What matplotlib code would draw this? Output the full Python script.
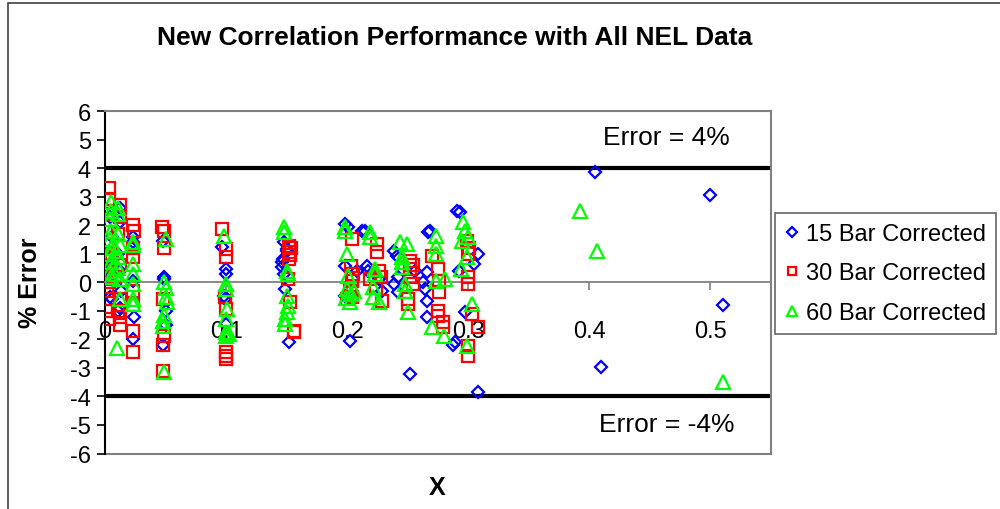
import matplotlib
matplotlib.use("Agg")
import matplotlib.pyplot as plt
from matplotlib.patches import Rectangle

plt.rcParams['font.family'] = ['Liberation Sans', 'DejaVu Sans']

# ---- data ----
x15 = [0.004, 0.006, 0.004, 0.005, 0.003, 0.004, 0.006, 0.012, 0.012, 0.011, 0.012, 0.013, 0.012, 0.011,
       0.023, 0.023, 0.023, 0.024, 0.023, 0.022,
       0.048, 0.049, 0.049, 0.050, 0.048, 0.050,
       0.097, 0.100, 0.100, 0.098, 0.100, 0.099,
       0.148, 0.150, 0.147, 0.146, 0.148, 0.149, 0.152, 0.150, 0.146,
       0.198, 0.212, 0.198, 0.198, 0.202, 0.201,
       0.215, 0.216, 0.217, 0.229, 0.208, 0.226,
       0.239, 0.241, 0.242, 0.239, 0.242, 0.252, 0.256,
       0.268, 0.266, 0.263, 0.264, 0.266, 0.266, 0.289, 0.287, 0.267,
       0.291, 0.293, 0.308, 0.305, 0.292, 0.297, 0.308,
       0.405, 0.410, 0.500, 0.510]
y15 = [2.3, 1.6, 0.9, 0.5, 0.2, -0.5, -0.6, 2.6, 2.1, 1.0, 0.4, -0.3, -0.9, -1.0,
       1.6, 1.4, 0.05, -1.2, -2.0, 1.2,
       1.45, 0.2, 0.1, -1.0, -2.2, -1.5,
       1.25, 0.47, 0.3, -0.47, -1.45, -0.6,
       1.4, 1.17, 0.83, 0.53, 0.3, -0.23, -2.08, 1.1, 0.7,
       2.05, 1.8, 0.58, -0.47, -2.05, 1.95,
       1.8, 0.58, 0.4, -0.3, 0.4, 0.1,
       1.1, 0.93, 0.19, -0.05, -0.33, -3.2, 0.4,
       1.8, 0.37, 0.0, -0.23, -0.65, -1.2, -2.08, -2.2, 1.75,
       2.5, 2.45, 1.0, 0.65, 0.4, -1.03, -3.85,
       3.87, -2.96, 3.06, -0.79]

x30 = [0.003, 0.003, 0.002, 0.003, 0.003, 0.002, 0.003, 0.002, 0.003, 0.003, 0.003,
       0.012, 0.012, 0.011, 0.012, 0.012, 0.011, 0.012, 0.012, 0.006, 0.008,
       0.023, 0.023, 0.023, 0.023, 0.023, 0.023, 0.023, 0.024,
       0.047, 0.049, 0.048, 0.049, 0.048, 0.048, 0.049,
       0.097, 0.100, 0.100, 0.099, 0.100, 0.100, 0.100, 0.100,
       0.152, 0.153, 0.152, 0.151, 0.153, 0.156, 0.156, 0.154, 0.153,
       0.204, 0.203, 0.204, 0.204, 0.200, 0.205, 0.202,
       0.225, 0.225, 0.219, 0.228, 0.229, 0.224, 0.226,
       0.252, 0.252, 0.252, 0.254, 0.250, 0.250, 0.254,
       0.270, 0.275, 0.276, 0.276, 0.275, 0.275, 0.279, 0.279,
       0.299, 0.300, 0.300, 0.300, 0.303, 0.308, 0.300, 0.300, 0.301]
y30 = [3.3, 2.9, 2.4, 1.3, 0.8, 0.4, 0.0, -0.3, -0.6, -1.0, -1.3,
       2.7, 2.3, 1.7, 0.6, -0.6, -1.0, -1.2, -1.5, 1.0, 0.2,
       2.0, 1.2, 0.9, -0.3, -0.8, -1.7, -2.45, 1.8,
       1.95, 1.2, -0.6, -1.9, -2.2, -3.1, 1.8,
       1.87, 1.17, 0.9, -0.5, -0.93, -2.45, -2.57, -2.7,
       1.28, 1.07, 0.83, 0.12, -0.68, -1.7, -1.73, 1.2, 0.95,
       1.52, 0.58, 0.05, -0.5, -0.6, 0.3, -0.3,
       1.35, 1.07, 0.12, 0.19, -0.65, -0.2, 0.4,
       0.75, 0.47, 0.19, -0.05, -0.58, -0.75, 0.6,
       0.93, 0.47, 0.05, -0.33, -1.0, -1.17, -1.4, -1.57,
       1.45, 1.0, 0.19, -0.05, -1.1, -1.57, -2.25, -2.57, 1.2]

x60 = [0.005, 0.005, 0.004, 0.005, 0.004, 0.005, 0.004, 0.005, 0.004, 0.005,
       0.011, 0.011, 0.011, 0.012, 0.011, 0.011, 0.012, 0.012, 0.010, 0.008, 0.009,
       0.023, 0.023, 0.023, 0.023, 0.023, 0.023, 0.023,
       0.050, 0.049, 0.050, 0.051, 0.049, 0.048, 0.048, 0.049, 0.050,
       0.098, 0.100, 0.100, 0.101, 0.100, 0.100, 0.100, 0.102,
       0.148, 0.148, 0.150, 0.150, 0.151, 0.150, 0.149, 0.149, 0.151,
       0.198, 0.198, 0.200, 0.201, 0.200, 0.202, 0.203, 0.199,
       0.206, 0.219, 0.219, 0.223, 0.223, 0.221, 0.221, 0.226,
       0.244, 0.249, 0.245, 0.245, 0.245, 0.248, 0.248, 0.250,
       0.273, 0.273, 0.273, 0.273, 0.281, 0.270, 0.280,
       0.296, 0.297, 0.295, 0.299, 0.294, 0.303, 0.299, 0.300,
       0.392, 0.406, 0.510]
y60 = [2.8, 2.5, 2.2, 1.8, 1.5, 1.2, 1.0, 0.7, 0.4, 0.2,
       2.6, 2.4, 1.7, 1.3, 0.9, 0.5, 0.1, -0.6, -2.3, 0.3, 1.1,
       1.4, 0.65, -0.05, -0.6, -0.75, 1.3, 0.3,
       1.5, 0.0, -0.2, -0.7, -1.15, -1.35, -1.55, -3.15, -0.5,
       1.63, -0.05, -0.22, -0.93, -1.28, -1.73, -1.9, -1.8,
       1.93, 1.77, 0.4, -0.47, -0.82, -1.03, -1.28, -1.45, 0.3,
       1.93, 1.8, 1.0, 0.23, -0.23, -0.68, -0.4, -0.55,
       -0.3, 1.77, 1.6, 0.47, 0.3, -0.15, -0.5, -0.7,
       1.42, 1.35, 0.9, 0.72, 0.55, -0.05, -0.3, -1.05,
       1.63, 1.28, 1.0, 0.05, 0.12, -1.57, -1.87,
       2.12, 1.8, 1.45, 0.9, 0.47, -0.75, -2.25, 1.6,
       2.5, 1.1, -3.48]

labels = ["15 Bar Corrected", "30 Bar Corrected", "60 Bar Corrected"]
error_limit = 4
x_ticks = [0, 0.1, 0.2, 0.3, 0.4, 0.5]
y_ticks = list(range(-6, 7))

# ---- figure ----
fig = plt.figure(figsize=(10, 5.1), dpi=100)
W, H = 1000, 510

# outer chart border (only top/left visible in crop)
fig.patches.append(Rectangle((8 / W, -0.1), 1.2, 1 - 4 / H + 0.1, transform=fig.transFigure,
                             fill=False, edgecolor='#404040', lw=1.2))

ax = fig.add_axes([105 / W, (H - 454.5) / H, (771 - 105) / W, (454.5 - 112) / H])
ax.set_xlim(0, 0.55)
ax.set_ylim(-6, 6)

grey = '#808080'
for s in ['top', 'right']:
    ax.spines[s].set_color(grey)
    ax.spines[s].set_linewidth(1.5)
ax.spines['left'].set_color('black')
ax.spines['left'].set_linewidth(1.5)
ax.spines['bottom'].set_position(('data', 0))
ax.spines['bottom'].set_color(grey)
ax.spines['bottom'].set_linewidth(1.3)
ax.axhline(-6, color=grey, lw=1.5, clip_on=False, zorder=1)

# error limit lines
ax.axhline(error_limit, color='black', lw=3, zorder=2)
ax.axhline(-error_limit, color='black', lw=3, zorder=2)

mew = 1.6
ax.plot(x15, y15, linestyle='none', marker='D', markersize=6.5, markerfacecolor='none',
        markeredgecolor='#0000FF', markeredgewidth=mew, label=labels[0], zorder=3)
ax.plot(x30, y30, linestyle='none', marker='s', markersize=8, markerfacecolor='none',
        markeredgecolor='#FF0000', markeredgewidth=mew, label=labels[1], zorder=3)
ax.plot(x60, y60, linestyle='none', marker='^', markersize=9.5, markerfacecolor='none',
        markeredgecolor='#00FF00', markeredgewidth=mew, label=labels[2], zorder=3)

ax.set_xticks(x_ticks)
ax.set_xticklabels(['0', '0.1', '0.2', '0.3', '0.4', '0.5'])
ax.set_yticks(y_ticks)
ax.set_yticklabels([str(v) for v in y_ticks])
ax.tick_params(axis='x', direction='out', length=6, width=1.2, color=grey, pad=21, labelsize=17)
ax.tick_params(axis='y', direction='out', length=6, width=1.2, color='black', pad=4, labelsize=17)

ax.text(0.464, 5.1, "Error = 4%", fontsize=19, ha='center', va='center')
ax.text(0.464, -4.95, "Error = -4%", fontsize=19, ha='center', va='center')

fig.text(455 / W, 1 - 38 / H, "New Correlation Performance with All NEL Data",
         fontsize=19, fontweight='bold', ha='center', va='center')
fig.text(30 / W, 1 - 283 / H, "% Error", fontsize=18, fontweight='bold', rotation=90,
         ha='center', va='center')
fig.text(437 / W, 1 - 488 / H, "X", fontsize=18, fontweight='bold', ha='center', va='center')

leg = ax.legend(loc='upper left', bbox_to_anchor=(775 / W, 1 - 214 / H),
                bbox_transform=fig.transFigure, fontsize=17, frameon=True, fancybox=False,
                edgecolor='#404040', borderpad=0.42, labelspacing=0.74, handlelength=0.6,
                handletextpad=0.3, borderaxespad=0, markerscale=0.8)
leg.get_frame().set_linewidth(1.2)

fig.savefig("out.png", dpi=100)
